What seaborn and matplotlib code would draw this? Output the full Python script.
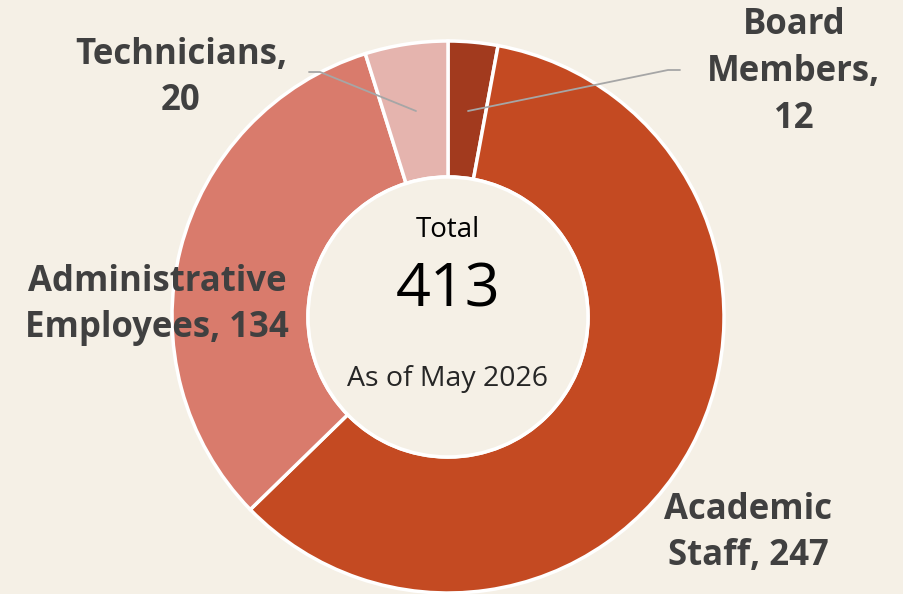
import matplotlib
matplotlib.use("Agg")
import matplotlib.pyplot as plt
import seaborn as sns

# data
categories = ["Board\nMembers,\n12", "Academic\nStaff, 247", "Administrative\nEmployees, 134", "Technicians,\n20"]
values = [12, 247, 134, 20]
colors = ["#A23A1E", "#C44A22", "#D97B6C", "#E5B4AE"]
total = sum(values)

bg = "#F5F0E6"
sns.set_theme(style="white")
plt.rcParams["font.family"] = ["Open Sans", "DejaVu Sans"]

fig = plt.figure(figsize=(9.04, 5.94), dpi=100, facecolor=bg)
ax = fig.add_axes([0, 0, 1, 1])
ax.set_facecolor(bg)
ax.axis("off")

cx, cy, r_out, r_in = 448, 277, 276, 140
wedges, _ = ax.pie(values, colors=colors, startangle=90, counterclock=False,
                   center=(cx, cy), radius=r_out,
                   wedgeprops=dict(width=r_out - r_in, edgecolor="white", linewidth=2.5))
ax.set_xlim(0, 904)
ax.set_ylim(0, 594)
ax.set_aspect("equal")

# inner circle
ax.add_patch(plt.Circle((cx, cy), r_in, facecolor=bg, edgecolor="white", linewidth=2.5, zorder=5))

# labels
lab_pos = [(794, 522), (748, 61), (157, 289), (181, 516)]
for lab, (x, y) in zip(categories, lab_pos):
    ax.text(x, y, lab, ha="center", va="center", fontsize=25, fontweight="bold",
            color="#404040", linespacing=1.4, zorder=6)

# leader lines
ax.plot([468, 668, 680], [483, 524, 524], color="#A6A6A6", lw=1.3, zorder=6)
ax.plot([416, 320, 309], [483, 522, 522], color="#A6A6A6", lw=1.3, zorder=6)

# center texts
ax.text(cx, 364, "Total", ha="center", va="center", fontsize=20, color="black", zorder=7)
ax.text(cx, 304, str(total), ha="center", va="center", fontsize=44, color="black", zorder=7)
ax.text(cx, 215, "As of May 2026", ha="center", va="center", fontsize=20.5, color="#262626", zorder=7)

fig.savefig("out.png", dpi=100, facecolor=bg)
